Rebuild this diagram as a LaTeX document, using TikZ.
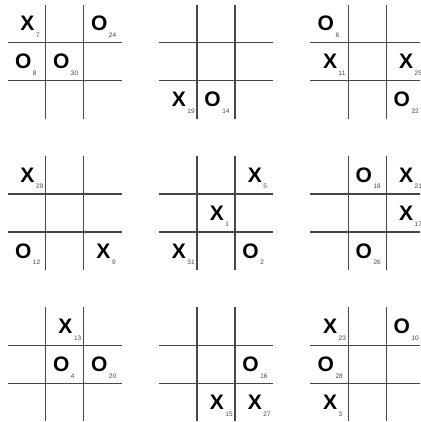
\documentclass[tikz,border=0pt]{standalone}
\usepackage{fontspec}
\setmainfont{Liberation Sans}
\tikzset{
  gridline/.style={draw=black!72, line width=1.1pt},
  markglyph/.style={inner sep=0pt, outer sep=0pt, font=\fontsize{21}{21}\selectfont\bfseries},
  movenum/.style={inner sep=0pt, outer sep=0pt, anchor=base west, text=black!72, font=\fontsize{6.5}{6.5}\selectfont},
}
% #1 x0, #2 y0
\newcommand\tttboard[2]{%
  \draw[gridline] (#1,#2+38) -- (#1+114,#2+38);
  \draw[gridline] (#1,#2+76) -- (#1+114,#2+76);
  \draw[gridline] (#1+38,#2) -- (#1+38,#2+114);
  \draw[gridline] (#1+76,#2) -- (#1+76,#2+114);
}
% #1 name, #2 x0, #3 y0, #4 row, #5 col, #6 letter, #7 number
\newcommand\tttmark[7]{%
  \if#6X\def\tttdx{0.8}\else\def\tttdx{-3.5}\fi
  \node[markglyph] (#1) at ({#2+19+38*#5+\tttdx},{#3+19+38*#4}) {#6};
  \node[movenum] (#1n) at ([xshift=1.6pt,yshift=-6.6pt]#1.base east) {#7};
}
\begin{document}
\begin{tikzpicture}[x=1pt,y=-1pt]
\useasboundingbox (0,0) rectangle (420,422);
\clip (0,0) rectangle (420,422);
% row 1
\tttboard{7.7}{4.7}
\tttmark{a1}{7.7}{4.7}{0}{0}{X}{7}
\tttmark{a2}{7.7}{4.7}{0}{2}{O}{24}
\tttmark{a3}{7.7}{4.7}{1}{0}{O}{8}
\tttmark{a4}{7.7}{4.7}{1}{1}{O}{30}
\tttboard{159}{4.7}
\tttmark{b1}{159}{4.7}{2}{0}{X}{19}
\tttmark{b2}{159}{4.7}{2}{1}{O}{14}
\tttboard{310.3}{4.7}
\tttmark{c1}{310.3}{4.7}{0}{0}{O}{6}
\tttmark{c2}{310.3}{4.7}{1}{0}{X}{11}
\tttmark{c3}{310.3}{4.7}{1}{2}{X}{25}
\tttmark{c4}{310.3}{4.7}{2}{2}{O}{22}
% row 2
\tttboard{7.7}{156}
\tttmark{d1}{7.7}{156}{0}{0}{X}{29}
\tttmark{d2}{7.7}{156}{2}{0}{O}{12}
\tttmark{d3}{7.7}{156}{2}{2}{X}{9}
\tttboard{159}{156}
\tttmark{e1}{159}{156}{0}{2}{X}{5}
\tttmark{e2}{159}{156}{1}{1}{X}{1}
\tttmark{e3}{159}{156}{2}{0}{X}{31}
\tttmark{e4}{159}{156}{2}{2}{O}{2}
\tttboard{310.3}{156}
\tttmark{f1}{310.3}{156}{0}{1}{O}{18}
\tttmark{f2}{310.3}{156}{0}{2}{X}{21}
\tttmark{f3}{310.3}{156}{1}{2}{X}{17}
\tttmark{f4}{310.3}{156}{2}{1}{O}{26}
% row 3
\tttboard{7.7}{307.3}
\tttmark{g1}{7.7}{307.3}{0}{1}{X}{13}
\tttmark{g2}{7.7}{307.3}{1}{1}{O}{4}
\tttmark{g3}{7.7}{307.3}{1}{2}{O}{20}
\tttboard{159}{307.3}
\tttmark{h1}{159}{307.3}{1}{2}{O}{16}
\tttmark{h2}{159}{307.3}{2}{1}{X}{15}
\tttmark{h3}{159}{307.3}{2}{2}{X}{27}
\tttboard{310.3}{307.3}
\tttmark{i1}{310.3}{307.3}{0}{0}{X}{23}
\tttmark{i2}{310.3}{307.3}{0}{2}{O}{10}
\tttmark{i3}{310.3}{307.3}{1}{0}{O}{28}
\tttmark{i4}{310.3}{307.3}{2}{0}{X}{3}
\end{tikzpicture}
\end{document}
